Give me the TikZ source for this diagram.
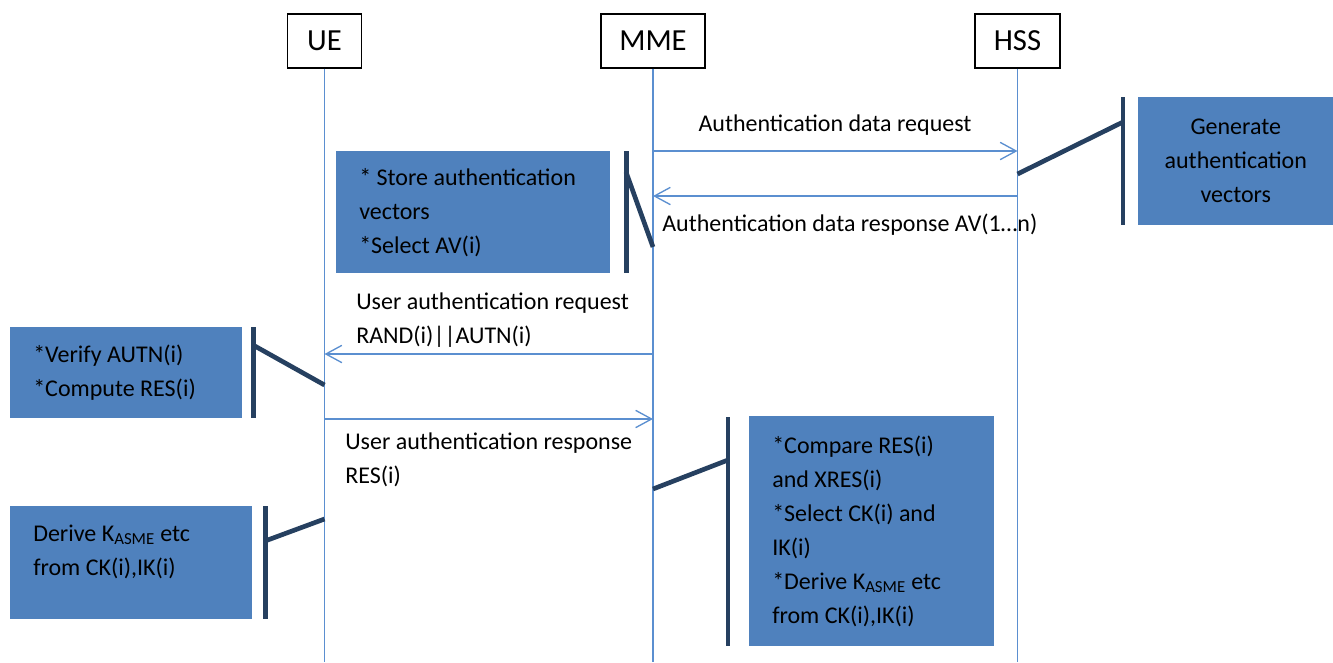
\documentclass[tikz,border=0pt]{standalone}
\usepackage{fontspec}
\setmainfont{Carlito}
\usetikzlibrary{arrows.meta}
\definecolor{notefill}{RGB}{79,129,189}
\definecolor{brkcol}{RGB}{38,64,96}
\definecolor{linecol}{RGB}{91,143,208}

\begin{document}
\begin{tikzpicture}[x=0.75pt,y=-0.75pt,
  font=\fontsize{18}{25.5}\selectfont,
  actor/.style={draw=black,line width=0.8pt,minimum height=54*0.75pt,inner sep=0pt,font=\fontsize{23}{28}\selectfont},
  note/.style={fill=notefill,anchor=north west,inner xsep=23*0.75pt,inner ysep=0pt,align=flush left},
  msg/.style={draw=linecol,line width=1pt,-{Straight Barb[length=12pt,width=13pt]}},
  life/.style={draw=linecol,line width=1pt},
  brk/.style={draw=brkcol,line width=3.5pt},
  lbl/.style={inner sep=0pt}]
\useasboundingbox (0,0) rectangle (1333,662);

% actors and lifelines
\node[actor,minimum width=74*0.75pt] (ue) at (324.5,41) {UE};
\node[actor,minimum width=104*0.75pt] (mme) at (653,41) {MME};
\node[actor,minimum width=85*0.75pt] (hss) at (1017.5,41) {HSS};
\foreach \a in {ue,mme,hss}
  \draw[life] (\a.south) -- (\a |- 0,662);

% messages
\draw[msg] (mme |- 0,151) -- (hss |- 0,151);
\node[lbl] (req) at (835,125) {Authentication data request};
\draw[msg] (hss |- 0,196) -- (mme |- 0,196);
\node[lbl,anchor=west] (resp) at (662,225) {Authentication data response AV(1…n)};
\draw[msg] (mme |- 0,354) -- (ue |- 0,354);
\node[lbl,anchor=west,align=left] (ureq) at (356,320) {User authentication request\\RAND(i)||AUTN(i)};
\draw[msg] (ue |- 0,419) -- (mme |- 0,419);
\node[lbl,anchor=west,align=left] (uresp) at (345,460) {User authentication response\\RES(i)};

% notes
\node[note,align=center,minimum width=195*0.75pt,minimum height=128*0.75pt,text width=149*0.75pt] (gen) at (1138,97)
  {Generate\\authentication\\vectors};
\draw[brk] (gen.north west) ++(-15,0) -- ++(0,128);
\draw[brk] (hss |- 0,174) -- (1123,122);

\node[note,minimum width=274*0.75pt,minimum height=122*0.75pt,text width=228*0.75pt] (store) at (336,151)
  {* Store authentication\\vectors\\{}*Select AV(i)};
\draw[brk] (store.north east) ++(16,0) -- ++(0,122);
\draw[brk] (626,172) -- (mme |- 0,247);

\node[note,minimum width=232*0.75pt,minimum height=91*0.75pt,text width=186*0.75pt] (verify) at (10,327)
  {*Verify AUTN(i)\\{}*Compute RES(i)};
\draw[brk] (verify.north east) ++(11,0) -- ++(0,91);
\draw[brk] (253,345) -- (ue |- 0,385);

\node[note,minimum width=245*0.75pt,minimum height=230*0.75pt,text width=199*0.75pt] (cmp) at (749,416)
  {*Compare RES(i)\\and XRES(i)\\{}*Select CK(i) and\\IK(i)\\{}*Derive K\textsubscript{ASME} etc\\from CK(i),IK(i)};
\draw[brk] (cmp.north west) ++(-21,1) -- ++(0,229);
\draw[brk] (mme |- 0,489) -- (728,460);

\node[note,minimum width=242*0.75pt,minimum height=113*0.75pt,text width=196*0.75pt] (derive) at (10,506)
  {Derive K\textsubscript{ASME} etc\\from CK(i),IK(i)\\[-6pt]\mbox{}};
\draw[brk] (derive.north east) ++(13,0) -- ++(0,113);
\draw[brk] (265,541) -- (ue |- 0,519);
\end{tikzpicture}
\end{document}
